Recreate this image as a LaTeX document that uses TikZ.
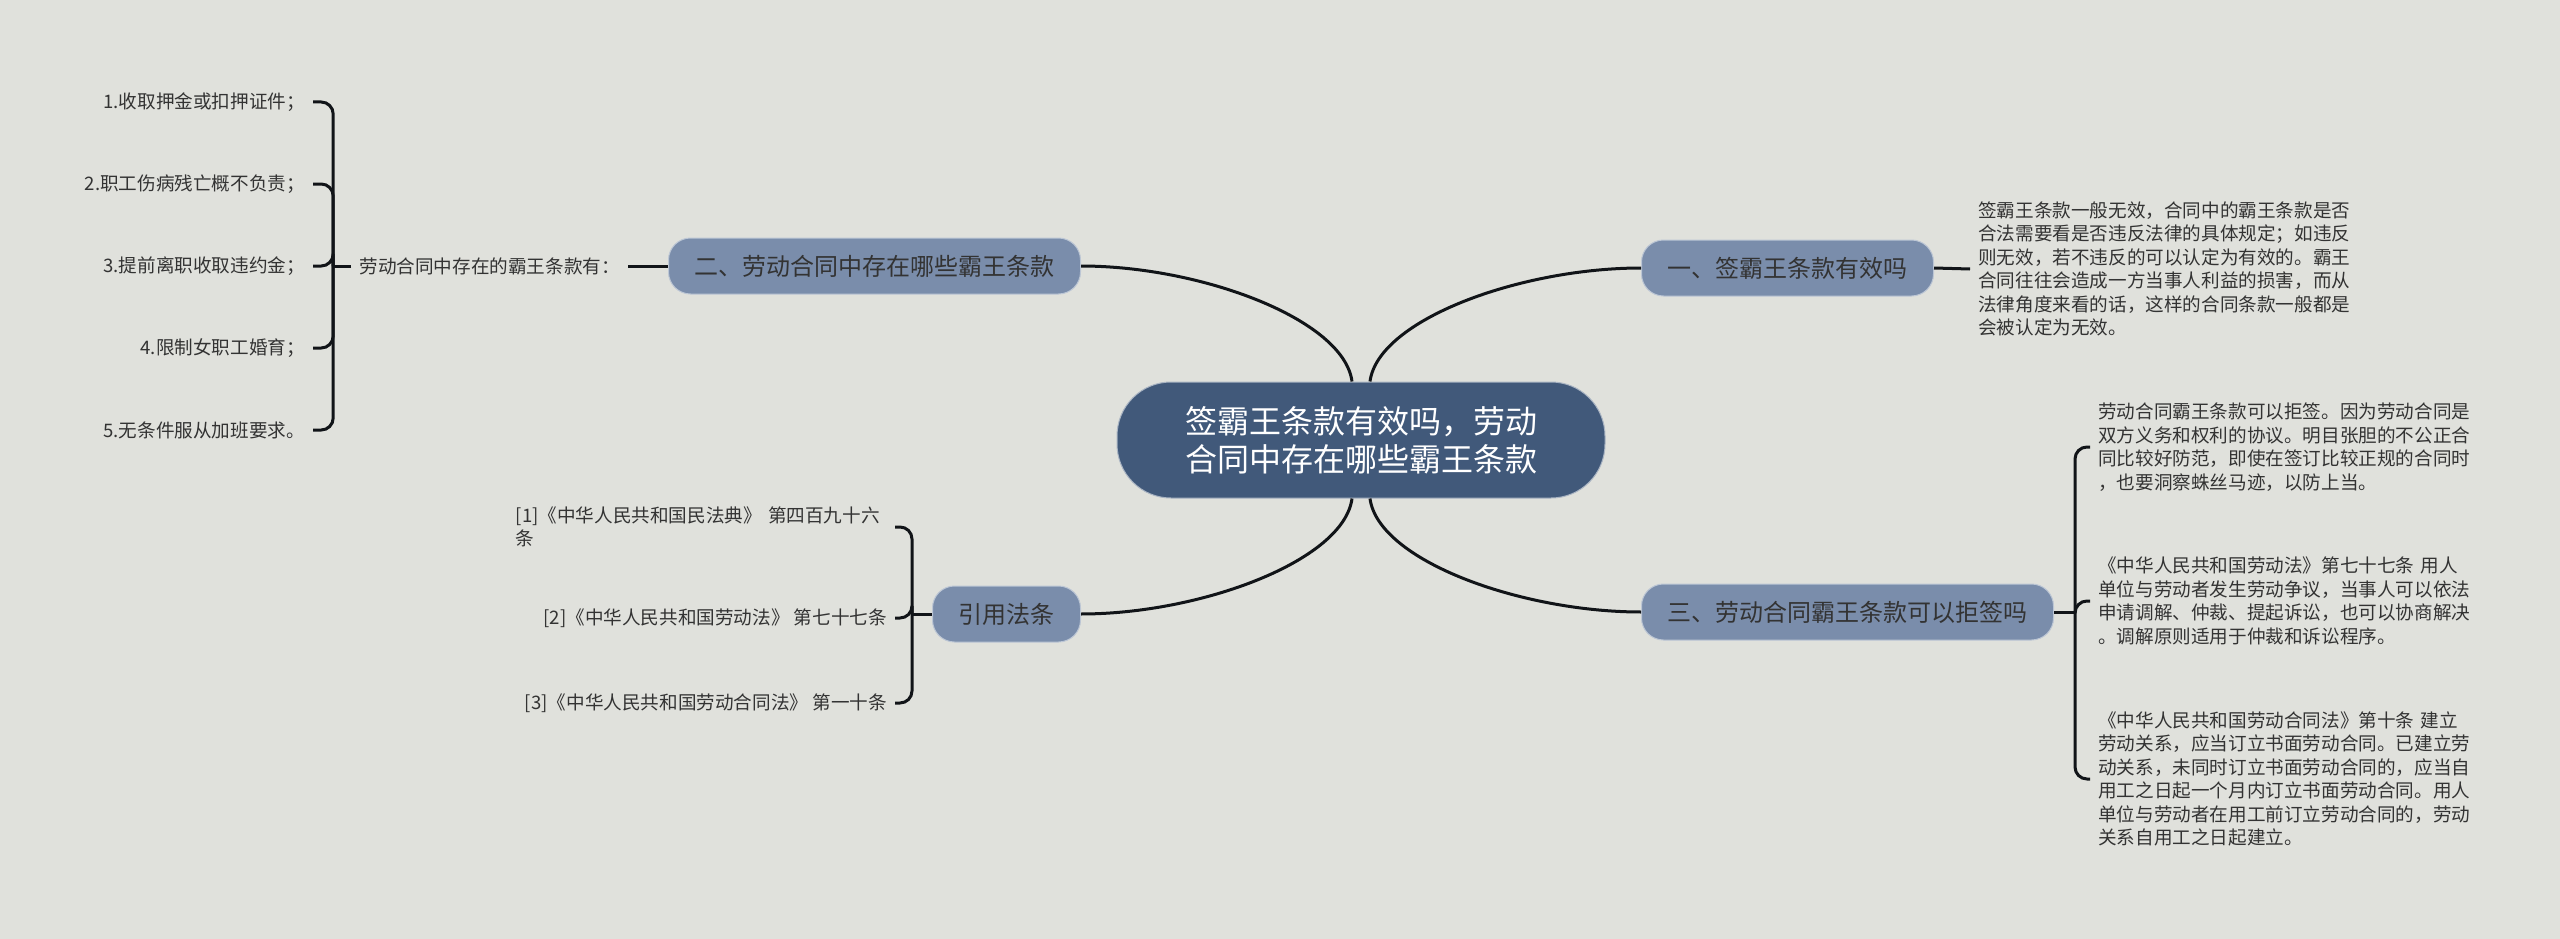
\documentclass[tikz,border=0pt]{standalone}
\usepackage{fontspec}
\setmainfont{Noto Sans CJK SC}
\usetikzlibrary{calc, positioning}
\definecolor{bwBg}{HTML}{E0E1DC}
\definecolor{bwInk}{HTML}{333333}
\definecolor{bwRoot}{HTML}{41597A}
\definecolor{bwMain}{HTML}{7A8DAB}
\definecolor{bwLine}{HTML}{111418}
\newlength{\bwTextW}
\setlength{\bwTextW}{380pt}
\tikzset{
  bwroot/.style={
    fill=bwRoot, draw=white!55!bwRoot, line width=1pt, rounded corners=54pt,
    text=white, minimum width=488pt, minimum height=116pt, align=center,
    font=\fontsize{32}{38}\selectfont,
  },
  bwmain/.style={
    fill=bwMain, draw=white!50!bwMain, line width=1pt, rounded corners=22pt,
    text=bwInk, minimum height=56pt, inner xsep=26pt,
    font=\fontsize{24}{29}\selectfont,
  },
  bwleaf/.style={
    text=bwInk, inner xsep=8pt, inner ysep=2pt,
    font=\fontsize{18.6}{23.5}\selectfont,
  },
  bwnote/.style={bwleaf, text width=#1, align=left},
  bwnote/.default=\bwTextW,
  bwlink/.style={draw=bwLine, line width=3pt},
  bwbrace/.style={bwlink, rounded corners=12pt},
}

\begin{document}
\begin{tikzpicture}[x=1pt, y=-1pt]
\fill[bwBg] (0,0) rectangle (2560,939);
\useasboundingbox (0,0) rectangle (2560,939);

% Centre ------------------------------------------------------------------
\node[bwroot] (root) at (1361,440) {签霸王条款有效吗，劳动\\合同中存在哪些霸王条款};

% Branches ----------------------------------------------------------------
\node[bwmain, anchor=west] (yi)  at (1641,268) {一、签霸王条款有效吗};
\node[bwmain, anchor=east] (er)  at (1081,266) {二、劳动合同中存在哪些霸王条款};
\node[bwmain, anchor=west] (san) at (1641,612) {三、劳动合同霸王条款可以拒签吗};
\node[bwmain, anchor=east] (yin) at (1081,614) {引用法条};

% 一 ----------------------------------------------------------------------
\node[bwnote, anchor=west] (yiTxt) at (1970,269) {%
  签霸王条款一般无效，合同中的霸王条款是否\\
  合法需要看是否违反法律的具体规定；如违反\\
  则无效，若不违反的可以认定为有效的。霸王\\
  合同往往会造成一方当事人利益的损害，而从\\
  法律角度来看的话，这样的合同条款一般都是\\
  会被认定为无效。};

% 二 ----------------------------------------------------------------------
\node[bwleaf, anchor=east] (erHead) at (628,266) {劳动合同中存在的霸王条款有：};
\node[bwleaf, anchor=east] (er1) at (313,102) {1.收取押金或扣押证件；};
\node[bwleaf, anchor=east] (er2) at (313,184) {2.职工伤病残亡概不负责；};
\node[bwleaf, anchor=east] (er3) at (313,266) {3.提前离职收取违约金；};
\node[bwleaf, anchor=east] (er4) at (313,348) {4.限制女职工婚育；};
\node[bwleaf, anchor=east] (er5) at (313,430) {5.无条件服从加班要求。};

% 三 ----------------------------------------------------------------------
\node[bwnote, anchor=west] (san1) at (2090,447) {%
  劳动合同霸王条款可以拒签。因为劳动合同是\\
  双方义务和权利的协议。明目张胆的不公正合\\
  同比较好防范，即使在签订比较正规的合同时\\
  ，也要洞察蛛丝马迹，以防上当。};
\node[bwnote, anchor=west] (san2) at (2090,601) {%
  《中华人民共和国劳动法》第七十七条 用人\\
  单位与劳动者发生劳动争议，当事人可以依法\\
  申请调解、仲裁、提起诉讼，也可以协商解决\\
  。调解原则适用于仲裁和诉讼程序。};
\node[bwnote, anchor=west] (san3) at (2090,779) {%
  《中华人民共和国劳动合同法》第十条 建立\\
  劳动关系，应当订立书面劳动合同。已建立劳\\
  动关系，未同时订立书面劳动合同的，应当自\\
  用工之日起一个月内订立书面劳动合同。用人\\
  单位与劳动者在用工前订立劳动合同的，劳动\\
  关系自用工之日起建立。};

% 引用法条 ----------------------------------------------------------------
\node[bwnote=371pt, anchor=east] (yin1) at (895,527) {[1]《中华人民共和国民法典》 第四百九十六\\条};
\node[bwleaf, anchor=east] (yin2) at (895,618) {[2]《中华人民共和国劳动法》 第七十七条};
\node[bwleaf, anchor=east] (yin3) at (895,703) {[3]《中华人民共和国劳动合同法》 第一十条};

% Links -------------------------------------------------------------------
\draw[bwlink] ($(root.north)+(-9,0)$) .. controls ($(root.north)+(-17,-62)$)
  and ($(er.east)+(120,0)$) .. (er.east);
\draw[bwlink] ($(root.north)+(9,0)$) .. controls ($(root.north)+(17,-62)$)
  and ($(yi.west)+(-120,0)$) .. (yi.west);
\draw[bwlink] ($(root.south)+(-9,0)$) .. controls ($(root.south)+(-17,62)$)
  and ($(yin.east)+(120,0)$) .. (yin.east);
\draw[bwlink] ($(root.south)+(9,0)$) .. controls ($(root.south)+(17,62)$)
  and ($(san.west)+(-120,0)$) .. (san.west);

\draw[bwlink] (yi.east) -- (yiTxt.west);

\coordinate (erJ) at ($(erHead.west)+(-18,0)$);
\draw[bwlink] (er.west) -- (erHead.east);
\draw[bwlink] (erHead.west) -- (erJ);
\foreach \c in {er1,er2,er3,er4,er5}{%
  \draw[bwbrace] (erJ) |- (\c.east);
}

\coordinate (sanJ) at ($(san.east)+(21,0)$);
\draw[bwlink] (san.east) -- (sanJ);
\foreach \c in {san1,san2,san3}{%
  \draw[bwbrace] (sanJ) |- (\c.west);
}

\coordinate (yinJ) at ($(yin.west)+(-20,0)$);
\draw[bwlink] (yin.west) -- (yinJ);
\foreach \c in {yin1,yin2,yin3}{%
  \draw[bwbrace] (yinJ) |- (\c.east);
}

\end{tikzpicture}
\end{document}
